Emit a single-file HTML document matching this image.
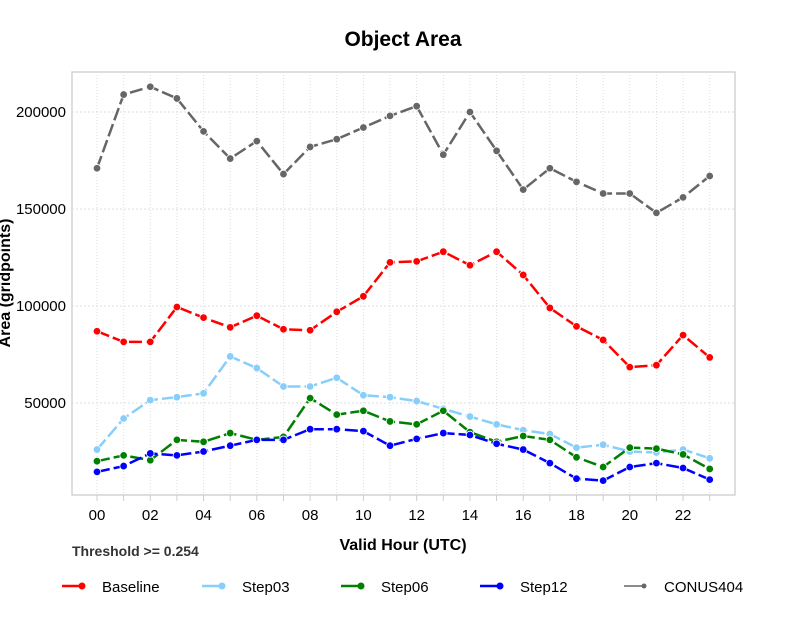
<!DOCTYPE html>
<html><head><meta charset="utf-8"><style>
body{margin:0;background:#fff;font-family:"Liberation Sans",sans-serif}
svg text{font-family:"Liberation Sans",sans-serif}
</style></head><body>
<svg id="chart" width="792" height="612" viewBox="0 0 792 612">
<text x="403" y="46" text-anchor="middle" font-size="21" font-weight="bold">Object Area</text>
<rect x="72" y="72" width="663" height="423" fill="#fff" stroke="#ccc" stroke-width="1.3"/>
<g id="grid"></g><g id="axes"></g><g id="series"></g>
<text x="403" y="550" text-anchor="middle" font-size="16" font-weight="bold">Valid Hour (UTC)</text>
<text transform="translate(10,283) rotate(-90)" text-anchor="middle" font-size="16" font-weight="bold">Area (gridpoints)</text>
<text x="72" y="556" font-size="14" font-weight="bold" fill="#333">Threshold &gt;= 0.254</text>
<g id="legend"></g>
</svg>
<script>
const hours=[0,1,2,3,4,5,6,7,8,9,10,11,12,13,14,15,16,17,18,19,20,21,22,23];
const seriesNames=["Baseline","Step03","Step06","Step12","CONUS404"];
const seriesColors=["#ff0000","#87cefa","#008000","#0000ff","#666666"];
const baseline=[87,81.5,81.5,99.5,94,89,95,88,87.5,97,105,122.5,123,128,121,128,116,99,89.5,82.5,68.5,69.5,85,73.5].map(v=>v*1000);
const step03=[26,42,51.5,53,55,74,68,58.5,58.5,63,54,53,51,47,43,39,36,34,27,28.5,25,24.5,26,21.5].map(v=>v*1000);
const step06=[20,23,20.5,31,30,34.5,31,32.5,52.5,44,46,40.5,39,46,35,30,33,31,22,17,27,26.5,23.5,16].map(v=>v*1000);
const step12=[14.5,17.5,24,23,25,28,31,31,36.5,36.5,35.5,28,31.5,34.5,33.5,29,26,19,11,10,17,19,16.5,10.5].map(v=>v*1000);
const conus=[171,209,213,207,190,176,185,168,182,186,192,198,203,178,200,180,160,171,164,158,158,148,156,167].map(v=>v*1000);
const yTicks=[50000,100000,150000,200000];
const xLabels=["00","02","04","06","08","10","12","14","16","18","20","22"];
const allSeries=[baseline,step03,step06,step12,conus];
const NS="http://www.w3.org/2000/svg";
function xs(h){return 97+h*(709.7-97)/23;}
function ys(v){return 500-v*97/50000;}
function mk(tag,attrs,parent){const e=document.createElementNS(NS,tag);for(const k in attrs)e.setAttribute(k,attrs[k]);parent.appendChild(e);return e;}
const grid=document.getElementById('grid'),axes=document.getElementById('axes'),ser=document.getElementById('series'),leg=document.getElementById('legend');
hours.forEach(h=>{
 const l=mk('line',{x1:xs(h),x2:xs(h),y1:72,y2:495,stroke:'#ddd','stroke-dasharray':'1,2'},grid);
 
 
 const t=mk('line',{x1:xs(h),x2:xs(h),y1:495,y2:501,stroke:'#ccc'},axes);
 
 
});
xLabels.forEach(s=>{
 const t=mk('text',{x:xs(+s),y:520,'text-anchor':'middle','font-size':15},axes);t.textContent=s;
 
 
});
yTicks.forEach(v=>{
 const l=mk('line',{x1:72,x2:735,y1:ys(v),y2:ys(v),stroke:'#ddd','stroke-dasharray':'2,2'},grid);
 
 
 const t=mk('text',{x:66,y:ys(v)+5,'text-anchor':'end','font-size':15},axes);t.textContent=v;
 
 
});
allSeries.forEach((d,i)=>{
 const g=mk('g',{},ser);
 
 
 const p=mk('polyline',{points:d.map((v,j)=>xs(hours[j])+','+ys(v)).join(' '),fill:'none',stroke:seriesColors[i],'stroke-width':2.5,'stroke-dasharray':'13,4'},g);
 
 
 d.forEach((v,j)=>{
  const c=mk('circle',{cx:xs(hours[j]),cy:ys(v),r:3.8,fill:seriesColors[i],stroke:'#fff','stroke-width':0.8},g);
  
  
 });
});
const legX=[62,202,341,480,624];
seriesNames.forEach((n,i)=>{
 const g=mk('g',{},leg);
 
 
 const x=legX[i];
 mk('line',{x1:x,x2:x+i===4?0:0,y1:586,y2:586},g);
 mk('line',{x1:x,x2:x+20,y1:586,y2:586,stroke:seriesColors[i],'stroke-width':i===4?1.5:2.5},g);
 mk('circle',{cx:x+20,cy:586,r:i===4?2.5:3.5,fill:seriesColors[i]},g);
 const t=mk('text',{x:x+40,y:592,'font-size':15},g);t.textContent=n;
});
</script>
</body></html>
